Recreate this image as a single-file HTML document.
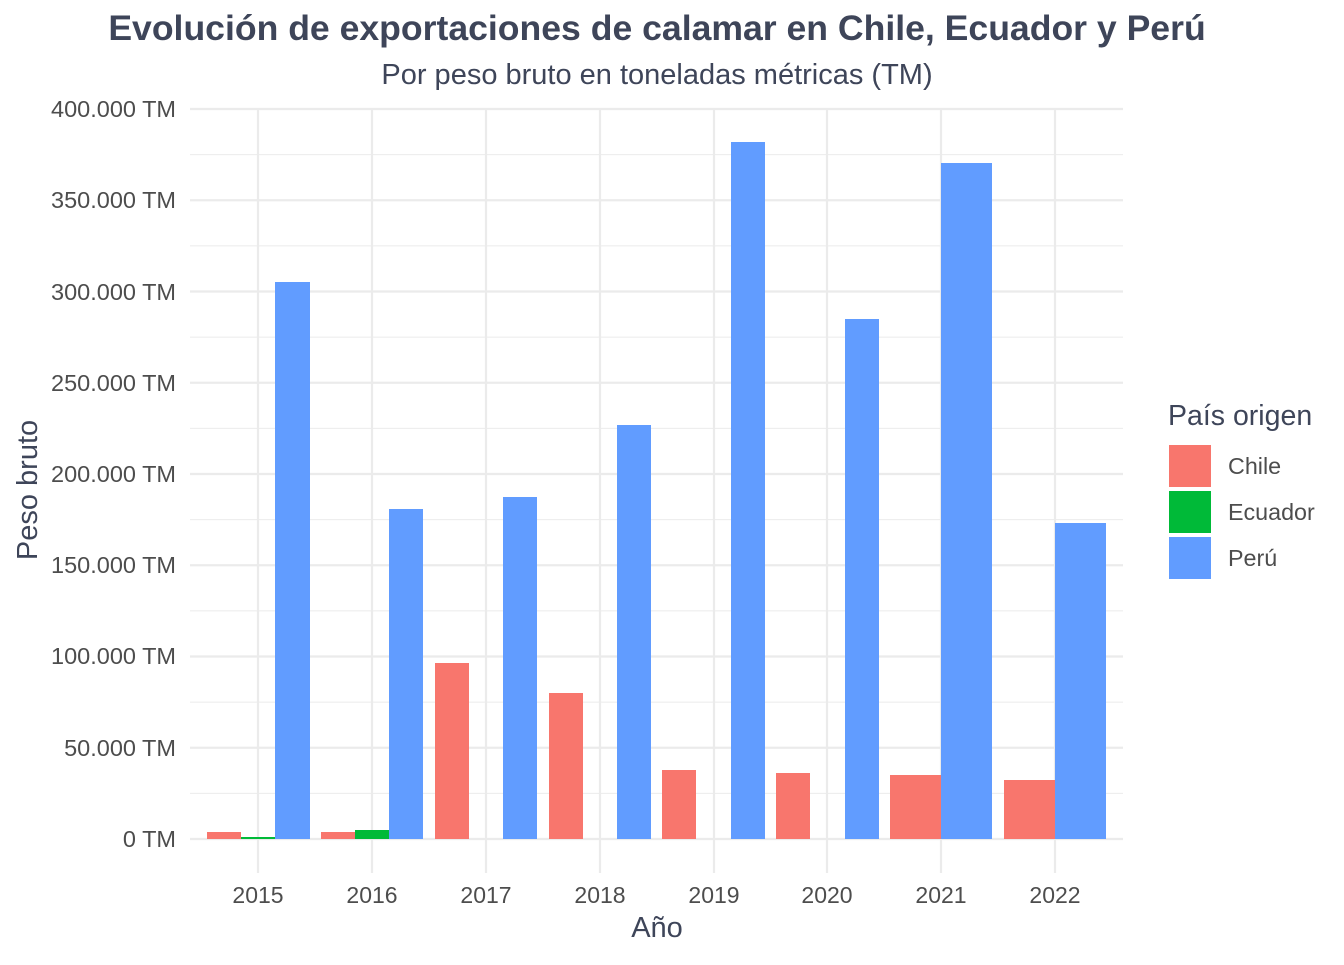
<!DOCTYPE html>
<html><head><meta charset="utf-8"><style>body{margin:0;background:#fff}</style></head><body>
<svg width="1344" height="960" xmlns="http://www.w3.org/2000/svg" font-family="Liberation Sans, sans-serif">
<rect width="1344" height="960" fill="#fff"/>
<g stroke="#ebebeb" stroke-width="1">
<line x1="190" x2="1123" y1="793.4" y2="793.4"/><line x1="190" x2="1123" y1="702.1" y2="702.1"/><line x1="190" x2="1123" y1="610.9" y2="610.9"/><line x1="190" x2="1123" y1="519.6" y2="519.6"/><line x1="190" x2="1123" y1="428.4" y2="428.4"/><line x1="190" x2="1123" y1="337.1" y2="337.1"/><line x1="190" x2="1123" y1="245.9" y2="245.9"/><line x1="190" x2="1123" y1="154.6" y2="154.6"/>
</g>
<g stroke="#ebebeb" stroke-width="2.2">
<line x1="190" x2="1123" y1="839" y2="839"/><line x1="190" x2="1123" y1="747.75" y2="747.75"/><line x1="190" x2="1123" y1="656.5" y2="656.5"/><line x1="190" x2="1123" y1="565.25" y2="565.25"/><line x1="190" x2="1123" y1="474" y2="474"/><line x1="190" x2="1123" y1="382.75" y2="382.75"/><line x1="190" x2="1123" y1="291.5" y2="291.5"/><line x1="190" x2="1123" y1="200.25" y2="200.25"/><line x1="190" x2="1123" y1="109" y2="109"/>
<line x1="258" x2="258" y1="109" y2="873"/><line x1="372" x2="372" y1="109" y2="873"/><line x1="486" x2="486" y1="109" y2="873"/><line x1="600" x2="600" y1="109" y2="873"/><line x1="714" x2="714" y1="109" y2="873"/><line x1="827" x2="827" y1="109" y2="873"/><line x1="941" x2="941" y1="109" y2="873"/><line x1="1055" x2="1055" y1="109" y2="873"/>
</g>
<g fill="#f8766d">
<rect x="207" y="832" width="34" height="7"/><rect x="321" y="832" width="34" height="7"/><rect x="435" y="663" width="34" height="176"/><rect x="549" y="693" width="34" height="146"/><rect x="662" y="770" width="34" height="69"/><rect x="776" y="773" width="34" height="66"/><rect x="890" y="775" width="51" height="64"/><rect x="1004" y="780" width="51" height="59"/>
</g>
<g fill="#00ba38"><rect x="241" y="837" width="34" height="2"/><rect x="355" y="830" width="34" height="9"/></g>
<g fill="#619cff">
<rect x="275" y="282" width="35" height="557"/><rect x="389" y="509" width="34" height="330"/><rect x="503" y="497" width="34" height="342"/><rect x="617" y="425" width="34" height="414"/><rect x="731" y="142" width="34" height="697"/><rect x="845" y="319" width="34" height="520"/><rect x="941" y="163" width="51" height="676"/><rect x="1055" y="523" width="51" height="316"/>
</g>
<g font-size="23.5" fill="#4d4d4d" text-anchor="end">
<text x="176" y="847">0 TM</text><text x="176" y="756">50.000 TM</text><text x="176" y="664">100.000 TM</text><text x="176" y="573">150.000 TM</text><text x="176" y="482">200.000 TM</text><text x="176" y="391">250.000 TM</text><text x="176" y="300">300.000 TM</text><text x="176" y="208">350.000 TM</text><text x="176" y="117">400.000 TM</text>
</g>
<g font-size="23" fill="#4d4d4d" text-anchor="middle">
<text x="258" y="903">2015</text><text x="372" y="903">2016</text><text x="486" y="903">2017</text><text x="600" y="903">2018</text><text x="714" y="903">2019</text><text x="827" y="903">2020</text><text x="941" y="903">2021</text><text x="1055" y="903">2022</text>
</g>
<text x="657" y="937" font-size="29" fill="#3e4559" text-anchor="middle">Año</text>
<text transform="translate(37,490) rotate(-90)" font-size="29" fill="#3e4559" text-anchor="middle">Peso bruto</text>
<text x="657" y="40" font-size="35.6" font-weight="bold" fill="#3e4559" text-anchor="middle">Evolución de exportaciones de calamar en Chile, Ecuador y Perú</text>
<text x="657" y="84" font-size="29" fill="#3e4559" text-anchor="middle">Por peso bruto en toneladas métricas (TM)</text>
<text x="1168" y="425" font-size="28.5" fill="#3e4559">País origen</text>
<rect x="1169" y="445" width="42" height="42" fill="#f8766d"/><rect x="1169" y="491" width="42" height="42" fill="#00ba38"/><rect x="1169" y="537" width="42" height="42" fill="#619cff"/>
<g font-size="23.3" fill="#4d4d4d"><text x="1228" y="474">Chile</text><text x="1228" y="520">Ecuador</text><text x="1228" y="566">Perú</text></g>
</svg>
</body></html>
